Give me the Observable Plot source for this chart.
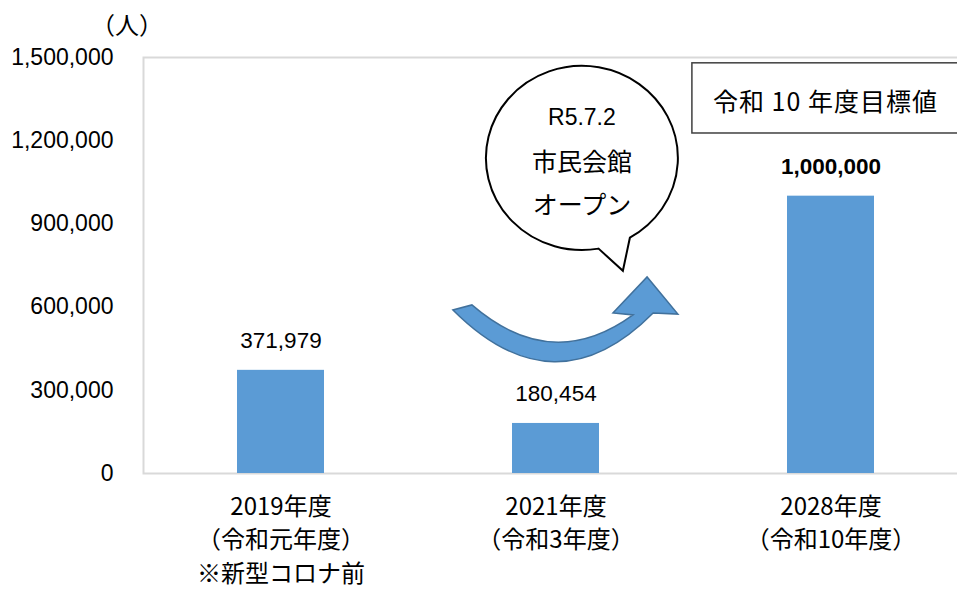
<!DOCTYPE html>
<html><head><meta charset="utf-8">
<script src="https://cdn.jsdelivr.net/npm/d3@7"></script>
<script src="https://cdn.jsdelivr.net/npm/@observablehq/plot@0.6"></script>
<style>
html,body{margin:0;padding:0;background:#fff;overflow:hidden;}
svg{max-width:none !important;display:block;}
</style></head><body><div id="chart"></div>
<script>
// ---- data ----
const categories = ["2019年度", "2021年度", "2028年度"];
const visitors = [371979, 180454, 1000000];
const subLabels = ["（令和元年度）", "（令和3年度）", "（令和10年度）"];
const noteLabels = ["※新型コロナ前", "", ""];
const yTicks = [0, 300000, 600000, 900000, 1200000, 1500000];
const yUnit = "（人）";
const targetCategory = "2028年度";
const bubbleLines = ["R5.7.2", "市民会館", "オープン"];
const targetLabel = "令和 10 年度目標値";

const data = categories.map((c, i) => ({cat: c, value: visitors[i], sub: subLabels[i], note: noteLabels[i]}));
const fmt = d3.format(",");
const jp = "'Noto Sans CJK JP', sans-serif";
const num = "'Liberation Sans', Arial, sans-serif";
const barColor = "#5b9bd5";

const catText = (field, dy) => Plot.text(data, {
  x: "cat", y: () => 0, text: field, dy, fontSize: 24, fontFamily: jp, fill: "#000"
});

const chart = Plot.plot({
  width: 972, height: 589,
  marginLeft: 143, marginRight: 4, marginTop: 57, marginBottom: 116,
  style: {fontFamily: num, fontSize: "22px", background: "#fff", color: "#000", overflow: "visible"},
  x: {domain: categories, paddingInner: 0.684, paddingOuter: 0.342, axis: null},
  y: {domain: [0, 1500000]},
  marks: [
    Plot.frame({stroke: "#d9d9d9", strokeWidth: 2}),
    Plot.barY(data, {x: "cat", y: "value", fill: barColor}),
    Plot.axisY({ticks: yTicks, tickFormat: fmt, tickSize: 0, tickPadding: 30, fontSize: 23, label: null}),
    Plot.text(data, {filter: d => d.cat !== targetCategory, x: "cat", y: "value", text: d => fmt(d.value), dy: -30, fontSize: 22.5, fontFamily: num}),
    Plot.text(data, {filter: d => d.cat === targetCategory, x: "cat", y: "value", text: d => fmt(d.value), dy: -29, fontSize: 22.5, fontFamily: num, fontWeight: "bold"}),
    catText("cat", 34),
    catText("sub", 67),
    catText("note", 101)
  ]
});
document.getElementById("chart").appendChild(chart);

// ---- annotations positioned through the chart's scales ----
const sx = chart.scale("x"), sy = chart.scale("y");
const anchorCat = categories[1];
const X = u => sx.apply(anchorCat) + sx.bandwidth / 2 + u * sx.step;
const Y = v => sy.apply(v);
const P = ([u, v]) => `${X(u)},${Y(v)}`;
const svg = d3.select(chart);

// unit label
svg.append("text").attr("x", X(-1.558)).attr("y", Y(1619000))
  .attr("text-anchor", "middle").attr("dominant-baseline", "central")
  .attr("font-family", jp).attr("font-size", 24).text(yUnit);

// curved arrow (band-step units, people)
const arrowOuter = [[-0.373, 588000], [-0.002, 220000], [0.355, 577000]];
const arrowHead = [[0.445, 573000], [0.333, 707000], [0.209, 577000]];
const arrowInner = [[0.282, 570000], [-0.013, 357000], [-0.304, 606000]];
svg.append("path")
  .attr("d", `M${P(arrowOuter[0])} Q${P(arrowOuter[1])} ${P(arrowOuter[2])} L${P(arrowHead[0])} L${P(arrowHead[1])} L${P(arrowHead[2])} L${P(arrowInner[0])} Q${P(arrowInner[1])} ${P(arrowInner[2])} Z`)
  .attr("fill", barColor).attr("stroke", "#41719c").attr("stroke-width", 1.5).attr("stroke-linejoin", "miter");

// speech bubble
const bub = {u: 0.096, v: 1136000, ru: 0.349, rv: 332000, tip: [0.245, 729000], a1: 80, a2: 60};
const cx = X(bub.u), cy = Y(bub.v), rx = bub.ru * sx.step, ry = Y(bub.v - bub.rv) - cy;
const pt = a => [cx + rx * Math.cos(a * Math.PI / 180), cy + ry * Math.sin(a * Math.PI / 180)];
const p1 = pt(bub.a1), p2 = pt(bub.a2);
svg.append("path")
  .attr("d", `M${p1} L${P(bub.tip)} L${p2} A${rx} ${ry} 0 1 0 ${p1} Z`)
  .attr("fill", "#fff").attr("stroke", "#000").attr("stroke-width", 2);
const bubbleV = [1284000, 1129000, 974000];
bubbleLines.forEach((t, i) => {
  svg.append("text").attr("x", cx).attr("y", Y(bubbleV[i]))
    .attr("text-anchor", "middle").attr("dominant-baseline", "central")
    .attr("font-family", i === 0 ? num : jp).attr("font-size", i === 0 ? 23 : 25).text(t);
});

// target box
const box = {u0: 0.496, u1: 1.6, v0: 1479000, v1: 1226000, tu: 0.98, tv: 1345000};
svg.append("rect").attr("x", X(box.u0)).attr("y", Y(box.v0))
  .attr("width", X(box.u1) - X(box.u0)).attr("height", Y(box.v1) - Y(box.v0))
  .attr("fill", "#fff").attr("stroke", "#404040").attr("stroke-width", 1.5);
svg.append("text").attr("x", X(box.tu) + 0.5).attr("y", Y(box.tv))
  .attr("text-anchor", "middle").attr("dominant-baseline", "central")
  .attr("font-family", jp).attr("font-size", 25).attr("letter-spacing", 1).text(targetLabel);
</script></body></html>
